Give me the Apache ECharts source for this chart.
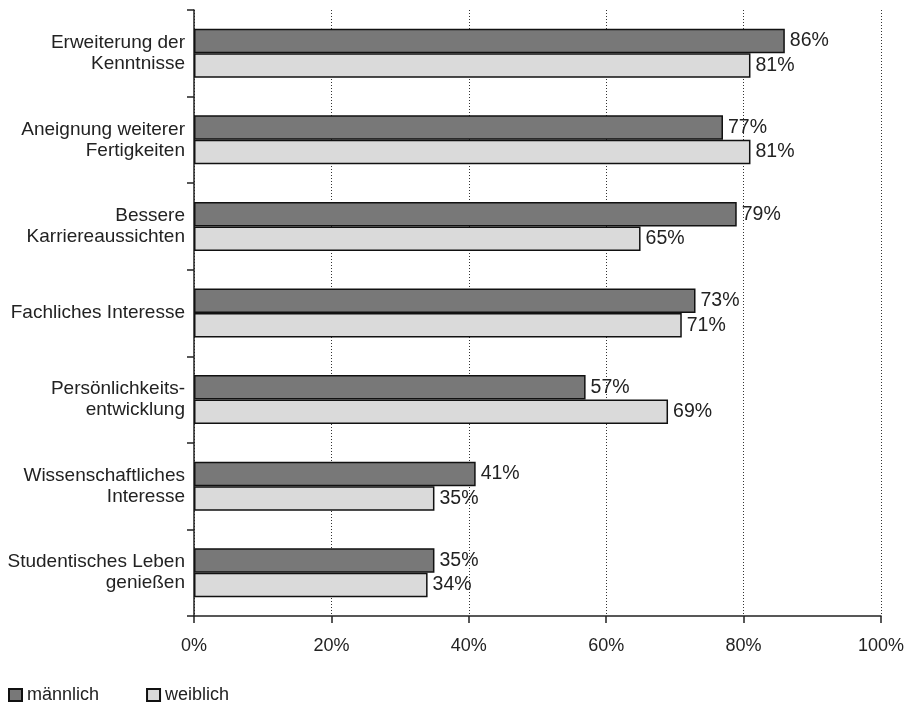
<!DOCTYPE html>
<html>
<head>
<meta charset="utf-8">
<script src="https://cdn.jsdelivr.net/npm/echarts@6/dist/echarts.min.js"></script>
<style>
  html, body { margin: 0; padding: 0; background: #fff; }
  #chart { width: 909px; height: 705px; }
</style>
</head>
<body>
<div id="chart"></div>
<script>
// Motive für das Studium, nach Geschlecht (Anteile in Prozent)
const categories = [
  'Erweiterung der\nKenntnisse',
  'Aneignung weiterer\nFertigkeiten',
  'Bessere\nKarriereaussichten',
  'Fachliches Interesse',
  'Persönlichkeits-\nentwicklung',
  'Wissenschaftliches\nInteresse',
  'Studentisches Leben\ngenießen'
];
const maennlich = [86, 77, 79, 73, 57, 41, 35];
const weiblich = [81, 81, 65, 71, 69, 35, 34];
const xTicks = [0, 20, 40, 60, 80, 100];

const FONT = '"Liberation Sans", Arial, sans-serif';
const TEXT = '#222';

const chart = echarts.init(document.getElementById('chart'), null, { renderer: 'canvas' });

const labelStyle = {
  show: true,
  position: 'right',
  distance: 5,
  formatter: '{c}%',
  fontFamily: FONT,
  fontSize: 19.5,
  color: TEXT
};

chart.setOption({
  animation: false,
  backgroundColor: '#fff',
  textStyle: { fontFamily: FONT },
  grid: { left: 194, right: 28, top: 10, bottom: 89, containLabel: false },
  legend: {
    left: 3,
    top: 681,
    icon: 'rect',
    itemWidth: 13,
    itemHeight: 12,
    itemGap: 47,
    textStyle: { fontFamily: FONT, fontSize: 18, color: TEXT },
    data: ['männlich', 'weiblich']
  },
  xAxis: {
    type: 'value',
    min: xTicks[0],
    max: xTicks[xTicks.length - 1],
    interval: 20,
    axisLine: { show: true, lineStyle: { color: '#222', width: 1.5 } },
    axisTick: { show: true, length: 7, lineStyle: { color: '#222', width: 1.5 } },
    axisLabel: {
      formatter: '{value}%',
      margin: 21,
      fontFamily: FONT,
      fontSize: 18,
      color: TEXT
    },
    splitLine: {
      show: true,
      lineStyle: { color: '#333', type: [1, 2], width: 1 }
    }
  },
  yAxis: {
    type: 'category',
    inverse: true,
    data: categories,
    axisLine: { show: true, lineStyle: { color: '#222', width: 1.5 } },
    axisTick: { show: true, length: 7, lineStyle: { color: '#222', width: 1.5 } },
    axisLabel: {
      margin: 9,
      fontFamily: FONT,
      fontSize: 19,
      lineHeight: 21,
      color: TEXT,
      align: 'right'
    }
  },
  series: [
    {
      name: 'männlich',
      type: 'bar',
      data: maennlich,
      barWidth: 24.5,
      barGap: '0%',
      itemStyle: { color: '#787878', borderColor: '#111', borderWidth: 1.5 },
      label: labelStyle
    },
    {
      name: 'weiblich',
      type: 'bar',
      data: weiblich,
      barWidth: 24.5,
      barGap: '0%',
      itemStyle: { color: '#dadada', borderColor: '#111', borderWidth: 1.5 },
      label: labelStyle
    }
  ]
});
</script>
</body>
</html>
